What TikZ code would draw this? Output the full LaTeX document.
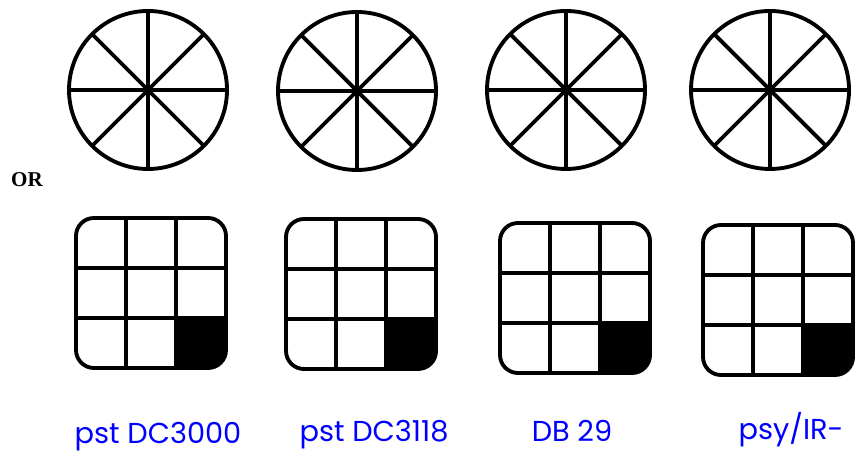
\documentclass[tikz,border=0pt]{standalone}
\usepackage{fontspec}
\setmainfont{Liberation Serif}
\newfontfamily\poppins{Poppins}
\usetikzlibrary{calc}

\begin{document}
\begin{tikzpicture}[x=0.1mm,y=-0.1mm,line width=1.1pt,
    lbl/.style={text=blue,font=\poppins\fontsize{8.2}{10}\selectfont,inner sep=0pt,anchor=base},
    orlbl/.style={font=\bfseries\fontsize{6}{7}\selectfont,inner sep=0pt,anchor=base}]
            \path[use as bounding box](0,0)rectangle(855,454);
            % OR
            \node[orlbl](or)at(27,187){OR};
            % 円1
            \coordinate(c1)at(148,90);
            \path[draw](c1)circle(79);
            \path[draw](c1)++(-79,0)to++(158,0);
            \path[draw](c1)++(0,-79)to++(0,158);
            \path[draw](c1)++(-56,-56)to++(112,112);
            \path[draw](c1)++(56,-56)to++(-112,112);
            % 円2
            \coordinate(c2)at(357,91);
            \path[draw](c2)circle(79);
            \path[draw](c2)++(-79,0)to++(158,0);
            \path[draw](c2)++(0,-79)to++(0,158);
            \path[draw](c2)++(-56,-56)to++(112,112);
            \path[draw](c2)++(56,-56)to++(-112,112);
            % 円3
            \coordinate(c3)at(566,90);
            \path[draw](c3)circle(79);
            \path[draw](c3)++(-79,0)to++(158,0);
            \path[draw](c3)++(0,-79)to++(0,158);
            \path[draw](c3)++(-56,-56)to++(112,112);
            \path[draw](c3)++(56,-56)to++(-112,112);
            % 円4
            \coordinate(c4)at(770,90);
            \path[draw](c4)circle(79);
            \path[draw](c4)++(-79,0)to++(158,0);
            \path[draw](c4)++(0,-79)to++(0,158);
            \path[draw](c4)++(-56,-56)to++(112,112);
            \path[draw](c4)++(56,-56)to++(-112,112);
            % 四角1
            \coordinate(s1)at(76,218);
            \begin{scope}
              \clip[rounded corners=1.8mm](s1)rectangle++(150,150);
              \path[fill]($(s1)+(100,100)$)rectangle++(50,50);
            \end{scope}
            \path[draw](s1)++(50,0)to++(0,150);
            \path[draw](s1)++(100,0)to++(0,150);
            \path[draw](s1)++(0,50)to++(150,0);
            \path[draw](s1)++(0,100)to++(150,0);
            \path[draw, rounded corners=1.8mm](s1)rectangle++(150,150);
            % 四角2
            \coordinate(s2)at(286,219);
            \begin{scope}
              \clip[rounded corners=1.8mm](s2)rectangle++(150,150);
              \path[fill]($(s2)+(100,100)$)rectangle++(50,50);
            \end{scope}
            \path[draw](s2)++(50,0)to++(0,150);
            \path[draw](s2)++(100,0)to++(0,150);
            \path[draw](s2)++(0,50)to++(150,0);
            \path[draw](s2)++(0,100)to++(150,0);
            \path[draw, rounded corners=1.8mm](s2)rectangle++(150,150);
            % 四角3
            \coordinate(s3)at(500,223);
            \begin{scope}
              \clip[rounded corners=1.8mm](s3)rectangle++(150,150);
              \path[fill]($(s3)+(100,100)$)rectangle++(50,50);
            \end{scope}
            \path[draw](s3)++(50,0)to++(0,150);
            \path[draw](s3)++(100,0)to++(0,150);
            \path[draw](s3)++(0,50)to++(150,0);
            \path[draw](s3)++(0,100)to++(150,0);
            \path[draw, rounded corners=1.8mm](s3)rectangle++(150,150);
            % 四角4
            \coordinate(s4)at(703,225);
            \begin{scope}
              \clip[rounded corners=1.8mm](s4)rectangle++(150,150);
              \path[fill]($(s4)+(100,100)$)rectangle++(50,50);
            \end{scope}
            \path[draw](s4)++(50,0)to++(0,150);
            \path[draw](s4)++(100,0)to++(0,150);
            \path[draw](s4)++(0,50)to++(150,0);
            \path[draw](s4)++(0,100)to++(150,0);
            \path[draw, rounded corners=1.8mm](s4)rectangle++(150,150);
            % ラベル
            \node[lbl](l1)at(158,444){pst DC3000};
            \node[lbl](l2)at(374,442){pst DC3118};
            \node[lbl](l3)at(572,441){DB 29};
            \node[lbl](l4)at(791,440){psy/IR-};
        \end{tikzpicture}
\end{document}
